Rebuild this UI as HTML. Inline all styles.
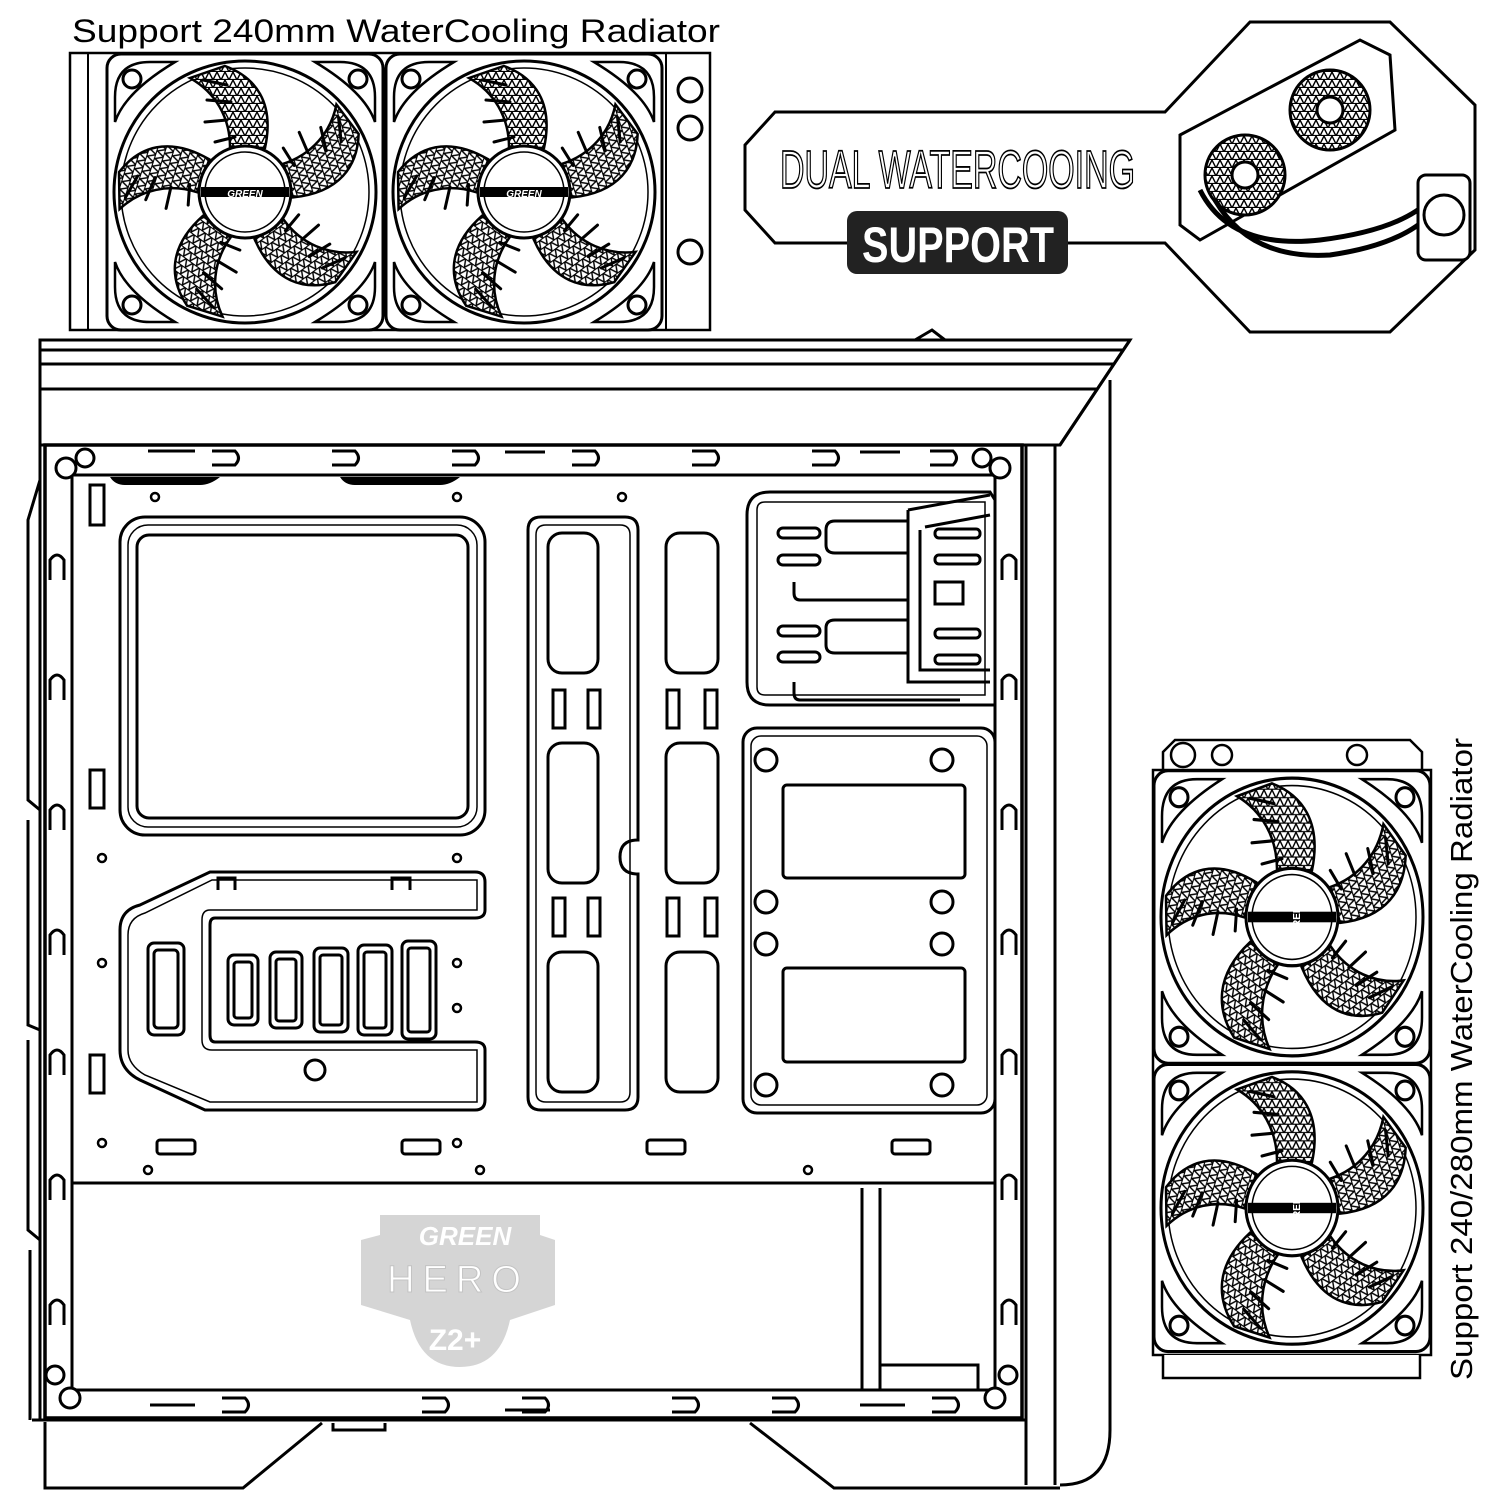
<!DOCTYPE html>
<html><head><meta charset="utf-8"><style>
html,body{margin:0;padding:0;background:#fff;}
svg{display:block}
text{font-family:"Liberation Sans",sans-serif}
</style></head><body>
<svg width="1500" height="1500" viewBox="0 0 1500 1500" xmlns="http://www.w3.org/2000/svg">
<defs>
<pattern id="mesh" width="8" height="8" patternUnits="userSpaceOnUse">
<rect width="8" height="8" fill="#fff"/>
<path d="M0 8 L4 0 L8 8" stroke="#000" stroke-width="1.4" fill="none"/>
<path d="M0 7.5 H8" stroke="#000" stroke-width="1.2"/>
</pattern>
<g id="fan">
<rect x="-138" y="-138" width="276" height="276" rx="14" fill="#fff" stroke="#000" stroke-width="3"/>
<path d="M-130 -95 Q-130 -130 -95 -130 H-70 Q-120 -100 -130 -70Z M130 -95 Q130 -130 95 -130 H70 Q120 -100 130 -70Z M-130 95 Q-130 130 -95 130 H-70 Q-120 100 -130 70Z M130 95 Q130 130 95 130 H70 Q120 100 130 70Z" fill="none" stroke="#000" stroke-width="2.5"/>
<circle cx="-113" cy="-113" r="9" fill="none" stroke="#000" stroke-width="3"/>
<circle cx="113" cy="-113" r="9" fill="none" stroke="#000" stroke-width="3"/>
<circle cx="-113" cy="113" r="9" fill="none" stroke="#000" stroke-width="3"/>
<circle cx="113" cy="113" r="9" fill="none" stroke="#000" stroke-width="3"/>
<circle r="131" fill="#fff" stroke="#000" stroke-width="3"/>
<circle r="124" fill="none" stroke="#000" stroke-width="1.5"/>
<g id="blade">
<path d="M20 -44 C30 -90 10 -115 -20 -126 L-55 -114 C-30 -100 -15 -75 -15 -45 Z" fill="url(#mesh)" stroke="#000" stroke-width="2.5"/>
<path d="M-18 -72 L-40 -70 M-14 -90 L-38 -92 M-18 -107 L-42 -112 M-10 -55 L-30 -50" stroke="#000" stroke-width="3" stroke-linecap="round"/>
</g>
<use href="#blade" transform="rotate(72)"/>
<use href="#blade" transform="rotate(144)"/>
<use href="#blade" transform="rotate(216)"/>
<use href="#blade" transform="rotate(288)"/>
<circle r="46" fill="#fff" stroke="#000" stroke-width="3"/>
<circle r="40" fill="none" stroke="#000" stroke-width="1.5"/>
<rect x="-44" y="-5" width="88" height="10" fill="#000"/>
</g>
</defs>

<text x="72" y="42" font-size="32" fill="#000" textLength="648" lengthAdjust="spacingAndGlyphs">Support 240mm WaterCooling Radiator</text>

<rect x="70" y="53" width="640" height="277" fill="#fff" stroke="#000" stroke-width="2.5"/>
<line x1="88" y1="53" x2="88" y2="330" stroke="#000" stroke-width="2"/>
<line x1="666" y1="53" x2="666" y2="330" stroke="#000" stroke-width="2"/>
<circle cx="690" cy="90" r="12" fill="none" stroke="#000" stroke-width="3"/>
<circle cx="690" cy="128" r="12" fill="none" stroke="#000" stroke-width="3"/>
<circle cx="690" cy="252" r="12" fill="none" stroke="#000" stroke-width="3"/>
<use href="#fan" transform="translate(245,192)"/>
<use href="#fan" transform="translate(524,192)"/>
<text x="245" y="197" font-size="10" font-weight="bold" fill="#fff" text-anchor="middle" font-style="italic">GREEN</text>
<text x="524" y="197" font-size="10" font-weight="bold" fill="#fff" text-anchor="middle" font-style="italic">GREEN</text>

<polygon points="775,112 1165,112 1250,22 1390,22 1475,105 1475,250 1390,332 1250,332 1165,243 775,243 745,210 745,145" fill="#fff" stroke="#000" stroke-width="3"/>
<text x="780" y="188" font-size="54" fill="#fff" stroke="#000" stroke-width="1.8" textLength="355" lengthAdjust="spacingAndGlyphs">DUAL WATERCOOING</text>
<rect x="847" y="211" width="221" height="63" rx="10" fill="#222"/>
<text x="862" y="262" font-size="50" font-weight="bold" fill="#fff" textLength="192" lengthAdjust="spacingAndGlyphs">SUPPORT</text>
<g stroke="#000" stroke-width="3" fill="#fff">
<polygon points="1180,135 1360,40 1390,55 1395,130 1200,240 1180,225"/>
<circle cx="1245" cy="175" r="40" fill="url(#mesh)"/>
<circle cx="1245" cy="175" r="13"/>
<circle cx="1330" cy="110" r="40" fill="url(#mesh)"/>
<circle cx="1330" cy="110" r="13"/>
<path d="M1200 190 Q1230 250 1320 240 Q1400 230 1430 200" fill="none" stroke-width="5"/>
<path d="M1215 200 Q1250 260 1330 255 Q1400 245 1430 215" fill="none" stroke-width="5"/>
<rect x="1418" y="175" width="52" height="85" rx="8"/>
<circle cx="1444" cy="215" r="20"/>
</g>

<g stroke="#000" stroke-width="3" fill="none">
<path d="M40 340 H1130 L1060 445 H40 Z" fill="#fff"/>
<line x1="40" y1="350" x2="1124" y2="350"/>
<line x1="40" y1="364" x2="1114" y2="364"/>
<line x1="40" y1="389" x2="1097" y2="389"/>
<path d="M915 340 L932 330 L945 340"/>
<path d="M1060 445 L1130 340 M1110 380 V1430 Q1110 1485 1060 1485" />
<line x1="1055" y1="445" x2="1055" y2="1485"/>
<line x1="1026" y1="445" x2="1026" y2="1485"/>
<line x1="40" y1="340" x2="40" y2="1420"/>
<path d="M32 1420 H1026"/>
<path d="M45 1422 V1488 H243 L322 1423"/>
<path d="M750 1423 L834 1488 H1060"/>
<path d="M333 1423 V1430 H385 V1423"/>
<path d="M40 480 L28 520 V800 L40 810 M28 820 V1025 L40 1030 M28 1040 V1230 L40 1240 M30 1250 V1420"/>
<path d="M45 445 H1022 V1418 H45 Z" stroke-width="3.5"/>
<path d="M72 475 H995 V1390 H72 Z"/>
<path d="M72 1183 H995"/>
<path d="M862 1188 V1390 M880 1188 V1390 M880 1365 H978 V1390"/>
</g>
<g fill="#fff" stroke="#000" stroke-width="3">
<circle cx="66" cy="468" r="10"/><circle cx="85" cy="458" r="9"/>
<circle cx="1000" cy="468" r="10"/><circle cx="982" cy="458" r="9"/>
<circle cx="70" cy="1398" r="10"/><circle cx="55" cy="1375" r="9"/>
<circle cx="995" cy="1398" r="10"/><circle cx="1008" cy="1375" r="9"/>
</g>
<g fill="none" stroke="#000" stroke-width="3">
<path d="M148 451 H195 M212 451 H235 Q242 458 235 465 H212"/>
<path d="M332 451 H355 Q362 458 355 465 H332"/>
<path d="M452 451 H475 Q482 458 475 465 H452"/>
<path d="M505 452 H545"/>
<path d="M572 451 H595 Q602 458 595 465 H572"/>
<path d="M692 451 H715 Q722 458 715 465 H692"/>
<path d="M812 451 H835 Q842 458 835 465 H812"/>
<path d="M860 452 H900"/>
<path d="M930 451 H953 Q960 458 953 465 H930"/>
<path d="M150 1405 H195"/>
<path d="M222 1398 H245 Q252 1405 245 1412 H222"/>
<path d="M422 1398 H445 Q452 1405 445 1412 H422"/>
<path d="M522 1398 H545 Q552 1405 545 1412 H522"/>
<path d="M505 1410 H550"/>
<path d="M672 1398 H695 Q702 1405 695 1412 H672"/>
<path d="M772 1398 H795 Q802 1405 795 1412 H772"/>
<path d="M860 1405 H905"/>
<path d="M932 1398 H955 Q962 1405 955 1412 H932"/>
</g>
<path d="M110 477 H220 Q210 485 200 485 H125 Q115 485 110 477Z M340 477 H460 Q450 485 440 485 H355 Q345 485 340 477Z" fill="#000"/>
<g fill="none" stroke="#000" stroke-width="3">
<path d="M50 580 V560 Q57 550 64 560 V580"/><path d="M50 700 V680 Q57 670 64 680 V700"/>
<path d="M50 830 V810 Q57 800 64 810 V830"/><path d="M50 955 V935 Q57 925 64 935 V955"/>
<path d="M50 1075 V1055 Q57 1045 64 1055 V1075"/><path d="M50 1200 V1180 Q57 1170 64 1180 V1200"/>
<path d="M50 1325 V1305 Q57 1295 64 1305 V1325"/>
<path d="M1002 580 V560 Q1009 550 1016 560 V580"/><path d="M1002 700 V680 Q1009 670 1016 680 V700"/>
<path d="M1002 830 V810 Q1009 800 1016 810 V830"/><path d="M1002 955 V935 Q1009 925 1016 935 V955"/>
<path d="M1002 1075 V1055 Q1009 1045 1016 1055 V1075"/><path d="M1002 1200 V1180 Q1009 1170 1016 1180 V1200"/>
<path d="M1002 1325 V1305 Q1009 1295 1016 1305 V1325"/>
<rect x="90" y="485" width="14" height="40"/><rect x="90" y="770" width="14" height="38"/><rect x="90" y="1055" width="14" height="38"/>
</g>
<g fill="none" stroke="#000" stroke-width="3">
<rect x="120" y="517" width="365" height="318" rx="25"/>
<rect x="128" y="525" width="349" height="302" rx="20" stroke-width="1.5"/>
<rect x="137" y="535" width="331" height="283" rx="12"/>
<path d="M528 530 Q528 517 541 517 H625 Q638 517 638 530 V840 Q620 840 620 857 Q620 874 638 874 V1097 Q638 1110 625 1110 H541 Q528 1110 528 1097 Z"/>
<path d="M536 535 Q536 525 546 525 H620 Q630 525 630 535 V1092 Q630 1102 620 1102 H546 Q536 1102 536 1092Z" stroke-width="1.5"/>
<rect x="548" y="533" width="50" height="140" rx="14"/>
<rect x="548" y="743" width="50" height="140" rx="14"/>
<rect x="548" y="952" width="50" height="140" rx="14"/>
<rect x="666" y="533" width="52" height="140" rx="14"/>
<rect x="666" y="743" width="52" height="140" rx="14"/>
<rect x="666" y="952" width="52" height="140" rx="14"/>
<rect x="553" y="690" width="12" height="38"/><rect x="588" y="690" width="12" height="38"/>
<rect x="667" y="690" width="12" height="38"/><rect x="705" y="690" width="12" height="38"/>
<rect x="553" y="898" width="12" height="38"/><rect x="588" y="898" width="12" height="38"/>
<rect x="667" y="898" width="12" height="38"/><rect x="705" y="898" width="12" height="38"/>
<path d="M120 930 Q120 910 140 905 L210 872 H475 Q485 872 485 882 V910 Q485 918 475 918 H215 Q210 918 210 925 V1035 Q210 1042 215 1042 H475 Q485 1042 485 1050 V1100 Q485 1110 475 1110 H205 L140 1080 Q120 1070 120 1050Z"/>
<path d="M128 935 Q128 918 145 913 L212 880 H477 V910 H210 Q202 910 202 920 V1040 Q202 1050 212 1050 H477 V1102 H210 L145 1075 Q128 1065 128 1050Z" stroke-width="1.5"/>
<rect x="148" y="943" width="36" height="92" rx="6"/><rect x="154" y="950" width="24" height="78" rx="4"/>
<rect x="228" y="955" width="30" height="70" rx="6"/><rect x="234" y="962" width="18" height="56" rx="3"/>
<rect x="270" y="952" width="32" height="76" rx="6"/><rect x="276" y="959" width="20" height="62" rx="3"/>
<rect x="314" y="948" width="34" height="84" rx="6"/><rect x="320" y="955" width="22" height="70" rx="3"/>
<rect x="358" y="945" width="34" height="90" rx="6"/><rect x="364" y="952" width="22" height="76" rx="3"/>
<rect x="402" y="941" width="34" height="98" rx="6"/><rect x="408" y="948" width="22" height="84" rx="3"/>
<path d="M218 890 V878 H235 V890 M392 890 V878 H410 V890"/>
<circle cx="315" cy="1070" r="10"/>
<path d="M770 492 H990 L995 500 V705 H770 Q747 705 747 682 V515 Q747 492 770 492Z"/>
<path d="M765 502 H985 V695 H765 Q757 695 757 687 V510 Q757 502 765 502Z" stroke-width="1.5"/>
<path d="M908 510 L990 495 M908 510 V682 H990"/>
<path d="M925 527 L990 515 M920 530 V670 H990" />
<rect x="778" y="528" width="42" height="10" rx="5"/><rect x="778" y="555" width="42" height="10" rx="5"/>
<rect x="778" y="626" width="42" height="10" rx="5"/><rect x="778" y="652" width="42" height="10" rx="5"/>
<path d="M908 521 H835 Q826 521 826 530 V545 Q826 553 835 553 H908"/>
<path d="M908 620 H835 Q826 620 826 628 V645 Q826 653 835 653 H908"/>
<path d="M794 582 V593 Q794 600 800 600 H908"/>
<path d="M794 682 V693 Q794 700 800 700 H960"/>
<rect x="935" y="529" width="45" height="9" rx="4"/><rect x="935" y="555" width="45" height="9" rx="4"/>
<rect x="935" y="629" width="45" height="9" rx="4"/><rect x="935" y="655" width="45" height="9" rx="4"/>
<rect x="935" y="582" width="28" height="22"/>
<rect x="743" y="728" width="252" height="385" rx="14"/>
<rect x="751" y="736" width="236" height="369" rx="10" stroke-width="1.5"/>
<rect x="783" y="785" width="182" height="93" rx="4"/>
<rect x="783" y="968" width="182" height="94" rx="4"/>
</g>
<g fill="#fff" stroke="#000" stroke-width="3">
<circle cx="766" cy="760" r="11"/><circle cx="942" cy="760" r="11"/>
<circle cx="766" cy="902" r="11"/><circle cx="942" cy="902" r="11"/>
<circle cx="766" cy="944" r="11"/><circle cx="942" cy="944" r="11"/>
<circle cx="766" cy="1085" r="11"/><circle cx="942" cy="1085" r="11"/>
</g>
<g fill="#fff" stroke="#000" stroke-width="3">
<rect x="157" y="1140" width="38" height="14" rx="3"/><rect x="402" y="1140" width="38" height="14" rx="3"/>
<rect x="647" y="1140" width="38" height="14" rx="3"/><rect x="892" y="1140" width="38" height="14" rx="3"/>
</g>
<g fill="none" stroke="#000" stroke-width="2.5">
<circle cx="155" cy="497" r="4"/><circle cx="457" cy="497" r="4"/><circle cx="622" cy="497" r="4"/>
<circle cx="102" cy="858" r="4"/><circle cx="457" cy="858" r="4"/>
<circle cx="102" cy="963" r="4"/><circle cx="457" cy="963" r="4"/><circle cx="457" cy="1008" r="4"/>
<circle cx="102" cy="1143" r="4"/><circle cx="457" cy="1143" r="4"/>
<circle cx="148" cy="1170" r="4"/><circle cx="480" cy="1170" r="4"/><circle cx="808" cy="1170" r="4"/>
</g>

<g opacity="0.35">
<path d="M380 1215 H540 V1235 L555 1240 V1305 L510 1320 Q500 1367 460 1367 Q420 1367 410 1320 L361 1305 V1240 L380 1235Z" fill="#888"/>
<text x="465" y="1245" font-size="26" font-weight="bold" font-style="italic" fill="#fff" text-anchor="middle">GREEN</text>
<text x="458" y="1292" font-size="38" fill="#fff" stroke="#555" stroke-width="1" text-anchor="middle" letter-spacing="8">HERO</text>
<text x="455" y="1350" font-size="30" font-weight="bold" fill="#fff" text-anchor="middle">Z2+</text>
</g>

<g stroke="#000" stroke-width="2.5" fill="#fff">
<path d="M1163 770 V752 L1175 740 H1410 L1422 752 V770"/>
<circle cx="1183" cy="755" r="12"/><circle cx="1222" cy="755" r="10"/><circle cx="1357" cy="755" r="10"/>
<rect x="1153" y="770" width="278" height="585"/>
<path d="M1163 1355 V1378 H1420 V1355"/>
</g>
<use href="#fan" transform="translate(1292,917) scale(1,1.06)"/>
<use href="#fan" transform="translate(1292,1208) scale(1,1.04)"/>
<text transform="translate(1296,917) rotate(-90)" font-size="10" font-weight="bold" fill="#fff" text-anchor="middle" y="4">GREEN</text>
<text transform="translate(1296,1208) rotate(-90)" font-size="10" font-weight="bold" fill="#fff" text-anchor="middle" y="4">GREEN</text>
<text transform="translate(1472,1380) rotate(-90)" font-size="31" fill="#000" textLength="642" lengthAdjust="spacingAndGlyphs">Support 240/280mm WaterCooling Radiator</text>
</svg>
</body></html>
